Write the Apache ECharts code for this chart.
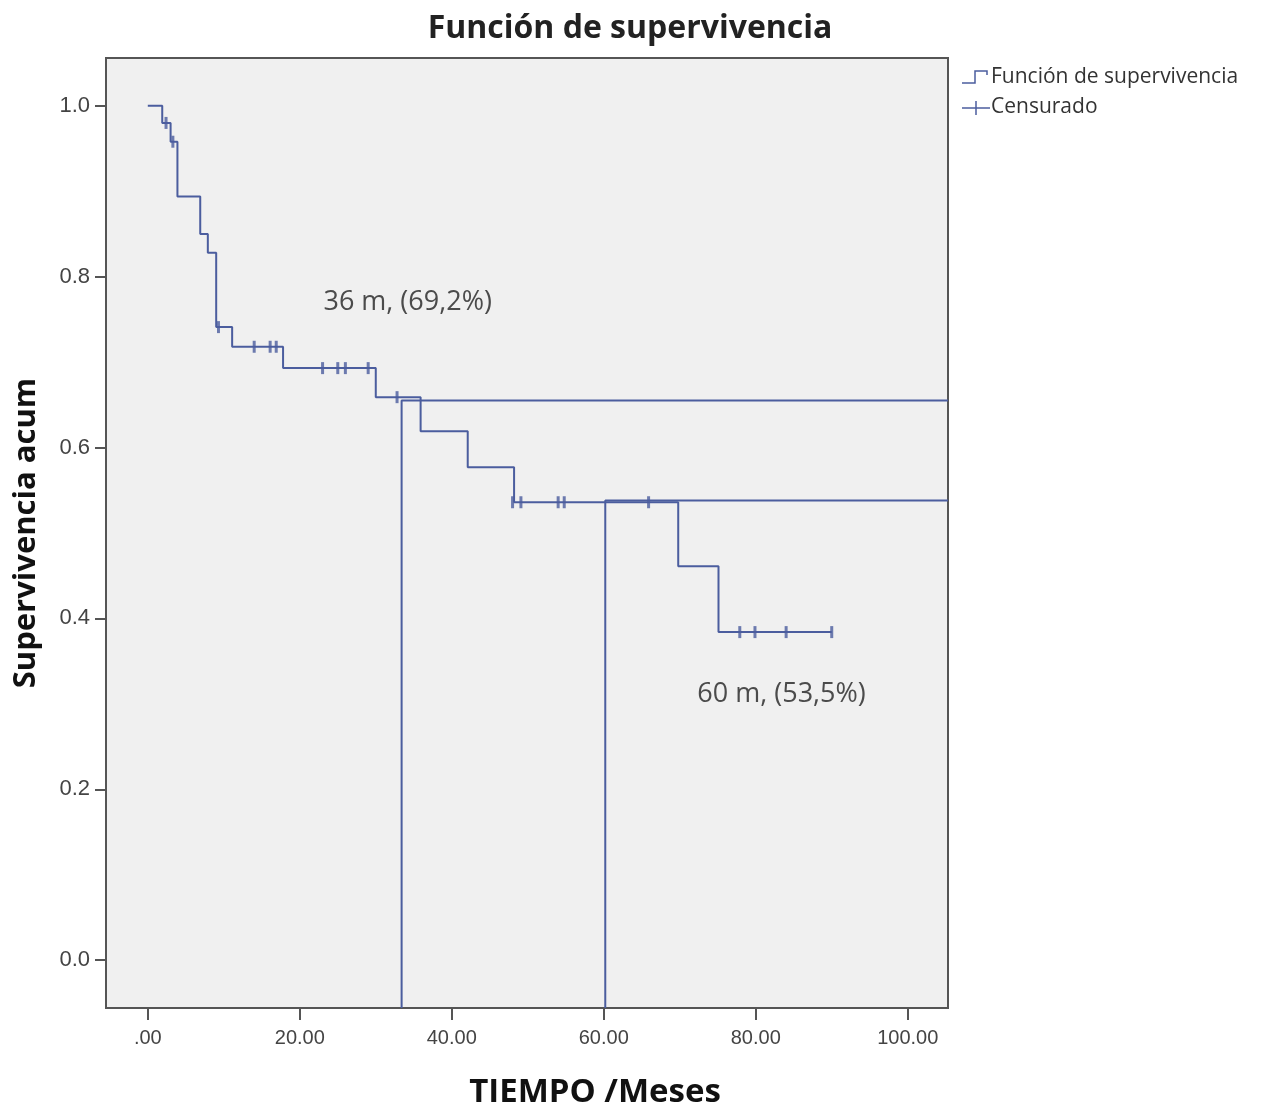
<!DOCTYPE html>
<html>
<head>
<meta charset="utf-8">
<script src="https://cdn.jsdelivr.net/npm/echarts@6/dist/echarts.min.js"></script>
<style>
  html, body { margin: 0; padding: 0; background: #fff; }
  #chart { width: 1267px; height: 1115px; }
</style>
</head>
<body>
<div id="chart"></div>
<script>
// survival curve, step points (time in months, cumulative survival after the event)
const curveTimes = [0, 1.9, 3.0, 3.9, 6.9, 7.9, 9.0, 11.1, 17.8, 30.0, 35.9, 42.1, 48.2, 69.8, 75.1, 90.0];
const curveSurv = [1.0, 0.980, 0.958, 0.894, 0.850, 0.828, 0.741, 0.718, 0.693, 0.659, 0.619, 0.577, 0.536, 0.461, 0.384, 0.384];

// censored observations
const censorTimes = [2.4, 3.3, 9.3, 14.0, 16.1, 16.9, 23.0, 25.0, 26.0, 29.0, 32.8, 48.0, 49.1, 54.0, 54.8, 65.9, 77.9, 79.9, 84.0, 90.0];
const censorSurv = [0.980, 0.958, 0.741, 0.718, 0.718, 0.718, 0.693, 0.693, 0.693, 0.693, 0.659, 0.536, 0.536, 0.536, 0.536, 0.536, 0.384, 0.384, 0.384, 0.384];

// reference lines at 36 and 60 months
const refTimes = [33.4, 60.2];
const refSurv = [0.655, 0.538];
const refLabels = ['36 m, (69,2%)', '60 m, (53,5%)'];
const labelTimes = [34.2, 83.4];
const labelSurv = [0.770, 0.311];

const xTicks = [0, 20, 40, 60, 80, 100];
const yTicks = [0, 0.2, 0.4, 0.6, 0.8, 1.0];

const xMin = -5.5, xMax = 105.3;
const yMin = -0.056, yMax = 1.056;

const blue = '#4b5d9e';

const chart = echarts.init(document.getElementById('chart'));

const refSeries = [];
refTimes.forEach((t, i) => {
  refSeries.push({
    type: 'line',
    data: [[xMax, refSurv[i]], [t, refSurv[i]], [t, yMin]],
    symbol: 'none',
    lineStyle: {color: blue, width: 2},
    silent: true,
    z: 3
  });
});

chart.setOption({
  animation: false,
  title: {
    text: 'Función de supervivencia',
    left: 625,
    textAlign: 'center',
    top: 8,
    textStyle: {fontFamily: 'Open Sans', fontWeight: 'bold', fontSize: 32, color: '#222'}
  },
  grid: {
    left: 106, right: 319, top: 58, bottom: 107,
    outerBoundsMode: 'none',
    show: true,
    backgroundColor: '#f0f0f0',
    borderColor: '#555',
    borderWidth: 2
  },
  xAxis: {
    type: 'value',
    min: xMin,
    max: xMax,
    splitLine: {show: false},
    axisLine: {show: true, onZero: false, lineStyle: {color: '#555', width: 2}},
    axisTick: {show: true, customValues: xTicks, length: 12, lineStyle: {color: '#555', width: 2}},
    axisLabel: {
      customValues: xTicks,
      margin: 20,
      fontFamily: 'Liberation Sans',
      fontSize: 20,
      color: '#444',
      formatter: v => v === 0 ? '.00' : v.toFixed(2)
    }
  },
  yAxis: {
    type: 'value',
    min: yMin,
    max: yMax,
    name: 'Supervivencia acum',
    nameLocation: 'middle',
    nameGap: 64,
    nameTextStyle: {fontFamily: 'Open Sans', fontWeight: 'bold', fontSize: 31, color: '#111'},
    splitLine: {show: false},
    axisLine: {show: true, onZero: false, lineStyle: {color: '#555', width: 2}},
    axisTick: {show: true, customValues: yTicks, length: 11, lineStyle: {color: '#555', width: 2}},
    axisLabel: {
      customValues: yTicks,
      margin: 16,
      fontFamily: 'Liberation Sans',
      fontSize: 22,
      color: '#444',
      formatter: v => v.toFixed(1)
    }
  },
  graphic: [
    {
      type: 'text',
      x: 595, y: 1093,
      style: {
        text: 'TIEMPO /Meses',
        font: 'bold 33px "Open Sans"',
        fill: '#111',
        align: 'center',
        verticalAlign: 'middle'
      }
    },
    {
      type: 'polyline',
      shape: {points: [[962, 83], [975, 83], [975, 71], [987, 71], [987, 75]]},
      style: {stroke: blue, lineWidth: 1.5, fill: null}
    },
    {
      type: 'text',
      x: 991, y: 77,
      style: {text: 'Función de supervivencia', font: '21px "Open Sans"', fill: '#333', verticalAlign: 'middle'}
    },
    {
      type: 'line',
      shape: {x1: 962, y1: 108, x2: 990, y2: 108},
      style: {stroke: blue, lineWidth: 1.5}
    },
    {
      type: 'line',
      shape: {x1: 976, y1: 101, x2: 976, y2: 115},
      style: {stroke: blue, lineWidth: 1.5}
    },
    {
      type: 'text',
      x: 991, y: 107,
      style: {text: 'Censurado', font: '21px "Open Sans"', fill: '#333', verticalAlign: 'middle'}
    }
  ],
  series: [
    {
      name: 'Función de supervivencia',
      type: 'line',
      step: 'end',
      data: curveTimes.map((t, i) => [t, curveSurv[i]]),
      symbol: 'none',
      lineStyle: {color: blue, width: 2},
      z: 4
    },
    {
      name: 'Censurado',
      type: 'scatter',
      data: censorTimes.map((t, i) => [t, censorSurv[i]]),
      symbol: 'rect',
      symbolSize: [3, 12],
      itemStyle: {color: blue},
      z: 5
    },
    ...refSeries,
    {
      type: 'scatter',
      data: labelTimes.map((t, i) => ({value: [t, labelSurv[i]], label: {formatter: refLabels[i]}})),
      symbolSize: 0,
      label: {
        show: true,
        position: 'inside',
        fontFamily: 'Open Sans',
        fontSize: 27,
        color: '#222'
      },
      silent: true,
      z: 6
    }
  ]
});
</script>
</body>
</html>
